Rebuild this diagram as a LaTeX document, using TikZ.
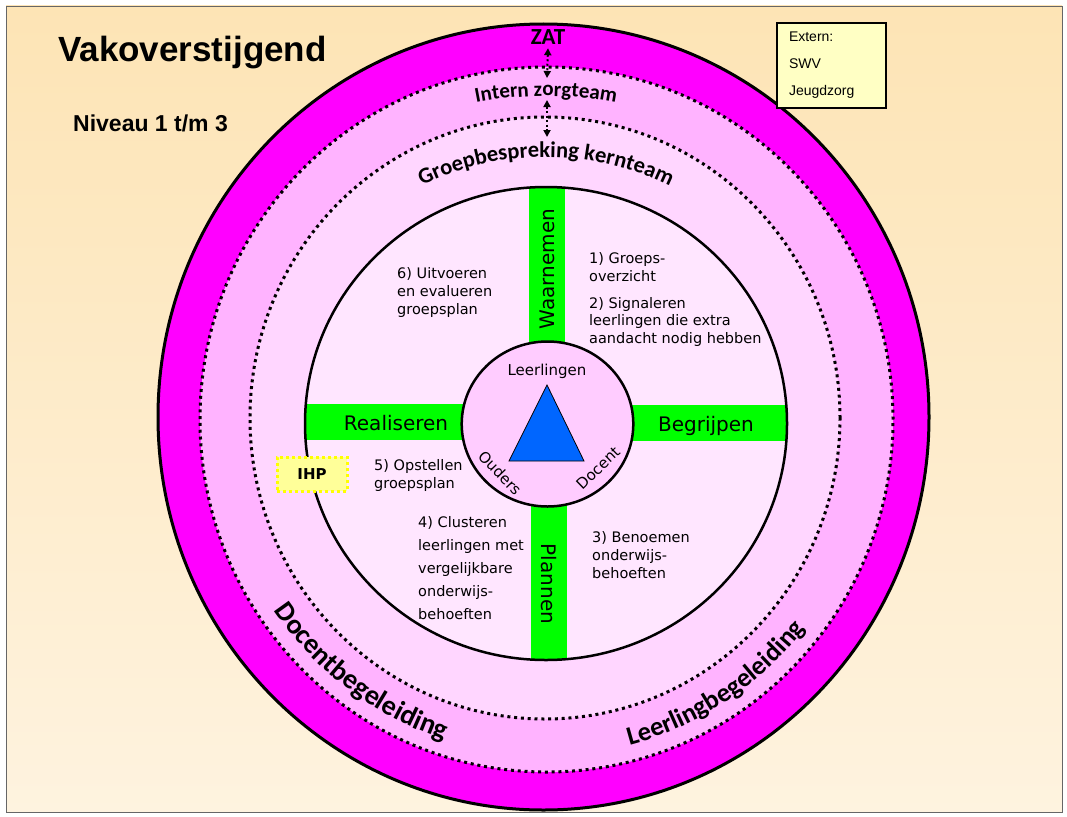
\documentclass[tikz,border=0pt]{standalone}
\usepackage{fontspec}
\setmainfont{Liberation Sans}
\newfontfamily\calibri{Carlito}
\newfontfamily\verdana{DejaVu Sans}
\usetikzlibrary{arrows.meta,decorations.text}
\definecolor{bgtop}{HTML}{FDE4B5}
\definecolor{bgbot}{HTML}{FEF3DF}
\definecolor{ringmag}{HTML}{FF00FF}
\definecolor{ringone}{HTML}{FFB3FF}
\definecolor{ringtwo}{HTML}{FFD6FF}
\definecolor{innerpink}{HTML}{FFE6FF}
\definecolor{corepink}{HTML}{FFCCFF}
\definecolor{bargreen}{HTML}{00FF00}
\definecolor{triblue}{HTML}{0066FF}
\definecolor{notebox}{HTML}{FFFFC4}
\definecolor{ihpfill}{HTML}{FFFF99}
\definecolor{ihpline}{HTML}{FFFF00}

\begin{document}
\begin{tikzpicture}[x=1pt,y=1pt,
  ringdots/.style={line width=3pt, dash pattern=on 3pt off 3.8pt},
  steptext/.style={font=\verdana\fontsize{14.5}{17.5}\selectfont, align=left, anchor=north west, inner sep=0pt},
  barlabel/.style={font=\verdana\fontsize{20}{24}\selectfont, inner sep=0pt},
  corelabel/.style={font=\verdana\fontsize{15}{18}\selectfont, inner sep=0pt},
  arrowdots/.style={line width=2pt, dash pattern=on 2pt off 2.5pt,
    {Triangle[length=7pt,width=7pt]}-{Triangle[length=7pt,width=7pt]}}]
\useasboundingbox (0,0) rectangle (1067,-816);
\fill[white] (0,0) rectangle (1067,-816);
\shade[top color=bgtop, bottom color=bgbot, draw=black!60, line width=0.8pt] (6,-6) rectangle (1062,-812);

% rings
\filldraw[fill=ringmag, draw=black, line width=3pt] (543.5,-417) ellipse [x radius=385.5pt, y radius=393pt];
\fill[ringone] (546.5,-419.5) ellipse [x radius=346.5pt, y radius=352.5pt];
\draw[ringdots] (546.5,-419.5) ellipse [x radius=346.5pt, y radius=352.5pt];
\fill[ringtwo] (545,-418) ellipse [x radius=295pt, y radius=301pt];
\draw[ringdots] (545,-418) ellipse [x radius=295pt, y radius=301pt];
\fill[innerpink] (546,-423.5) ellipse [x radius=241pt, y radius=236.5pt];
\begin{scope}
\clip (546,-423.5) ellipse [x radius=241pt, y radius=236.5pt];
\fill[bargreen] (529,-180) rectangle (565,-360);
\fill[bargreen] (531,-490) rectangle (567,-670);
\fill[bargreen] (295,-404) rectangle (480,-440);
\fill[bargreen] (615,-405) rectangle (800,-441);
\end{scope}
\draw[line width=2.5pt] (546,-423.5) ellipse [x radius=241pt, y radius=236.5pt];
\filldraw[fill=corepink, draw=black, line width=2.5pt] (547.5,-424) ellipse [x radius=85.8pt, y radius=82.5pt];
\draw[fill=triblue, line width=0.8pt] (547,-385) -- (509,-461) -- (584,-461) -- cycle;

% curved ring labels
\path[decorate, decoration={text along path, text align=center,
  text={|\calibri\bfseries\fontsize{21}{24}\selectfont|Intern zorgteam}}]
  (546,-419) ++(125:341pt and 323pt) arc[start angle=125, end angle=55, x radius=341pt, y radius=323pt];
\path[decorate, decoration={text along path, text align=center,
  text={|\calibri\bfseries\fontsize{22.5}{26}\selectfont|Groepbespreking kernteam}}]
  (546,-419) ++(145:272pt and 262pt) arc[start angle=145, end angle=35, x radius=272pt, y radius=262pt];
\path[decorate, decoration={text along path, text align=center,
  text={|\calibri\bfseries\fontsize{28}{32}\selectfont|Docentbegeleiding}}]
  (546,-419) ++(200:331pt and 337pt) arc[start angle=200, end angle=267, x radius=331pt, y radius=337pt];
\path[decorate, decoration={text along path, text align=center,
  text={|\calibri\bfseries\fontsize{26.5}{30}\selectfont|Leerlingbegeleiding}}]
  (546,-419) ++(270:331pt and 337pt) arc[start angle=270, end angle=336, x radius=331pt, y radius=337pt];

% ZAT and links
\node[font=\calibri\bfseries\fontsize{23}{26}\selectfont, anchor=base, inner sep=1pt] (zat) at (548,-45) {ZAT};
\coordinate (izt top) at (547,-78);
\coordinate (izt bot) at (547,-100);
\coordinate (gbk top) at (547,-137);
\draw[arrowdots] ([yshift=-2pt]zat.south) -- (izt top);
\draw[arrowdots] (izt bot) -- (gbk top);

% titles
\node[font=\bfseries\fontsize{35}{40}\selectfont, anchor=base west, inner sep=0pt] (title) at (58,-62) {Vakoverstijgend};
\node[font=\bfseries\fontsize{23}{26}\selectfont, anchor=base west, inner sep=0pt] (niveau) at (73,-131) {Niveau 1 t/m 3};
\node[draw=black, line width=2pt, fill=notebox, font=\fontsize{14}{27}\selectfont,
  align=left, text width=85pt, inner xsep=12pt, inner ysep=0pt, minimum height=85pt] (extern) at (831.5,-65.5)
  {Extern:\\SWV\\Jeugdzorg};

% bar labels
\node[barlabel, rotate=90] (waarnemen) at (547,-269) {Waarnemen};
\node[barlabel, rotate=-90] (plannen) at (549,-584) {Plannen};
\node[barlabel, anchor=base] (realiseren) at (396,-430) {Realiseren};
\node[barlabel, anchor=base] (begrijpen) at (706,-431) {Begrijpen};

% core
\node[corelabel, anchor=base] (leerlingen) at (547,-375) {Leerlingen};
\node[corelabel, rotate=-46] (ouders) at (500,-473) {Ouders};
\node[corelabel, rotate=44] (docent) at (598,-468) {Docent};

% steps
\node[steptext] (stap1) at (589,-252.5) {1) Groeps-\\overzicht};
\node[steptext] (stap2) at (589,-297) {2) Signaleren\\leerlingen die extra\\aandacht nodig hebben};
\node[steptext, font=\verdana\fontsize{14.5}{18}\selectfont] (stap3) at (592,-531) {3) Benoemen\\onderwijs-\\behoeften};
\node[steptext, font=\verdana\fontsize{14.5}{23}\selectfont] (stap4) at (418,-516.5) {4) Clusteren\\leerlingen met\\vergelijkbare\\onderwijs-\\behoeften};
\node[steptext] (stap5) at (374,-459.5) {5) Opstellen\\groepsplan};
\node[steptext, font=\verdana\fontsize{14.5}{18}\selectfont] (stap6) at (397,-267.5) {6) Uitvoeren\\en evalueren\\groepsplan};

\node[draw=ihpline, fill=ihpfill, line width=3pt, dash pattern=on 3pt off 3pt,
  minimum width=70pt, minimum height=34pt, font=\verdana\bfseries\fontsize{15}{18}\selectfont] (ihp) at (312,-474) {IHP};
\end{tikzpicture}
\end{document}
